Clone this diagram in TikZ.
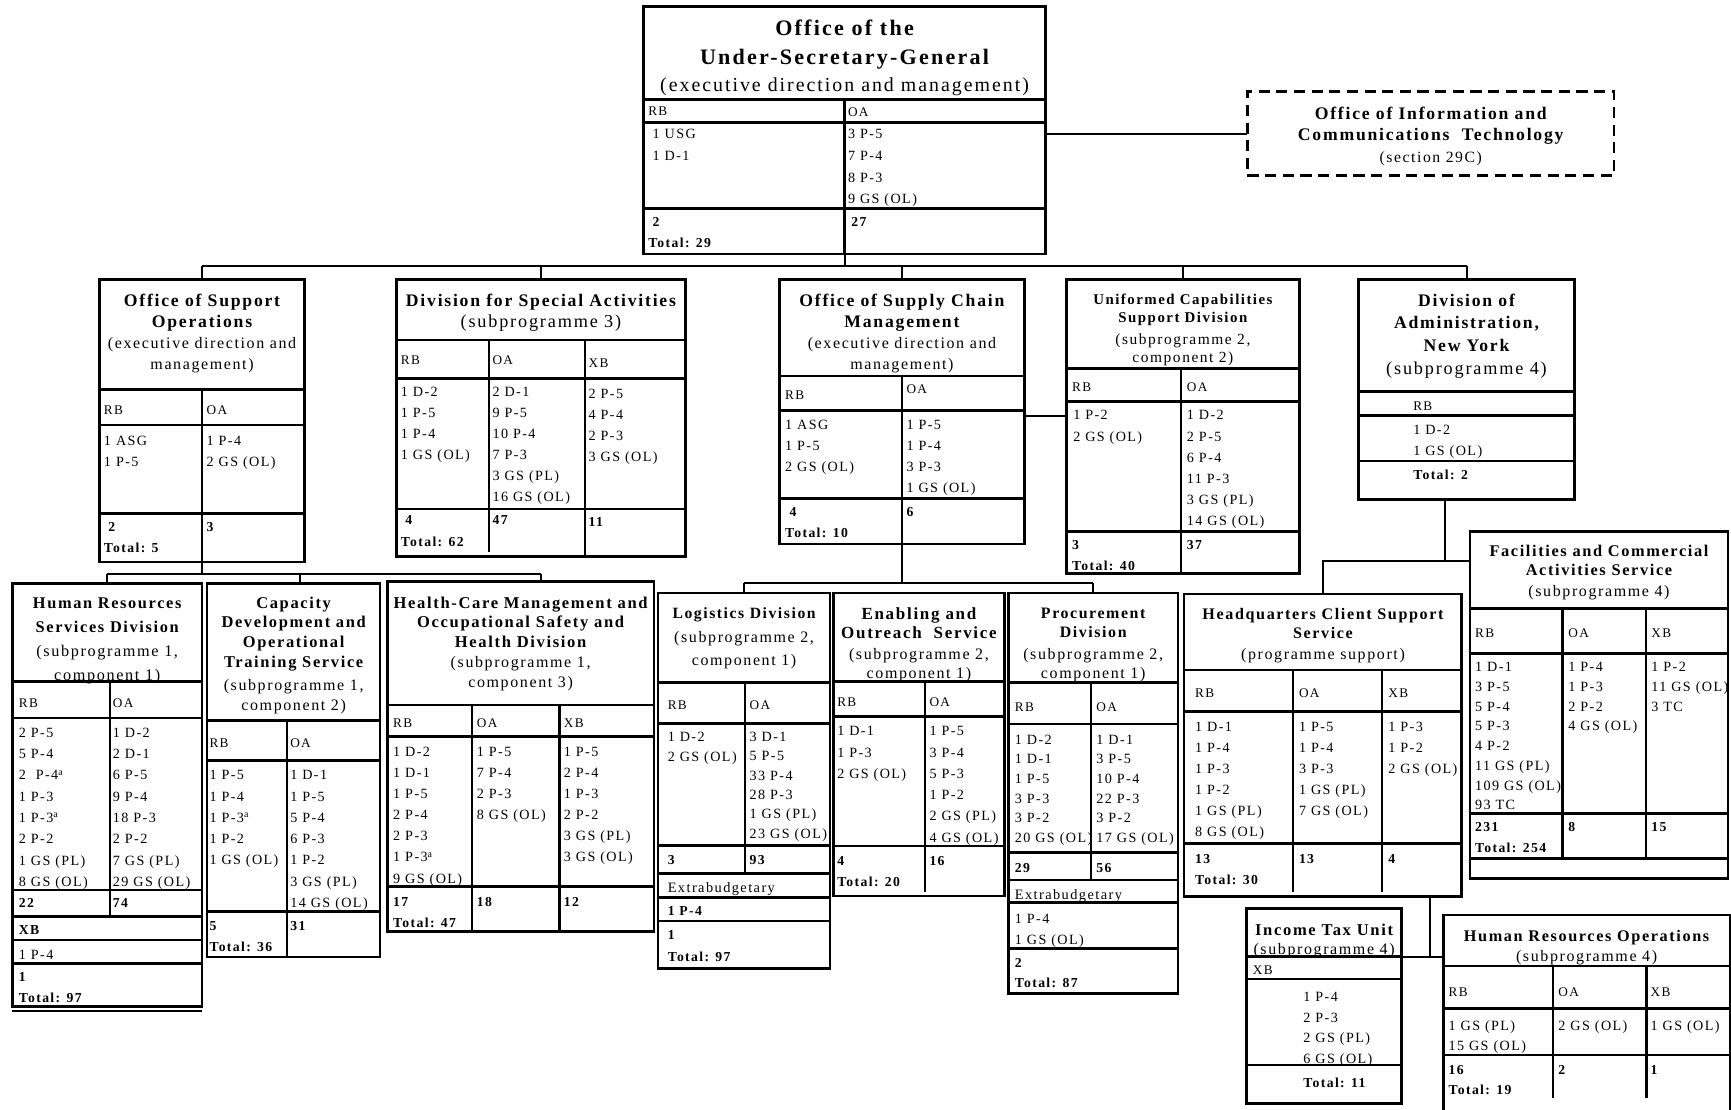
\documentclass[tikz,border=0pt]{standalone}
\usepackage{fontspec}
\setmainfont{Liberation Serif}[LetterSpace=10]
\tikzset{
 box/.style={draw, line width=2.2pt, anchor=north west, inner sep=0pt, outer sep=0pt},
 dbox/.style={box, dash pattern=on 10pt off 6pt},
 rule/.style={line width=2.2pt},
 link/.style={line width=1.8pt},
 cell/.style={anchor=north west, inner sep=0pt, align=left, font=\fontsize{12.8}{19}\selectfont},
 bs/.style={font=\fontsize{12.8}{#1}\selectfont},
 hdr/.style={anchor=north west, inner sep=0pt, font=\fontsize{12}{13}\selectfont},
 tot/.style={anchor=north west, inner sep=0pt, align=left, font=\bfseries\fontsize{12.4}{19}\selectfont},
 tbs/.style={font=\bfseries\fontsize{12.4}{#1}\selectfont},
 ttl/.style={anchor=north, inner sep=0pt, align=center, font=\bfseries\fontsize{15}{18}\selectfont},
 ts/.style 2 args={font=\bfseries\fontsize{#1}{#2}\selectfont},
 sub/.style={anchor=north, inner sep=0pt, align=center, font=\fontsize{14.5}{18}\selectfont},
 ss/.style 2 args={font=\fontsize{#1}{#2}\selectfont},
}
\begin{document}
\begin{tikzpicture}[x=1pt,y=-1pt]
\fill[white] (0,0) rectangle (1568,1005);
\useasboundingbox (0,0) rectangle (1568,1005);

% ---------- Office of the USG
\node[box, minimum width=364pt, minimum height=224pt] (ousg) at (583,6) {};
\draw[rule] (583,90) -- (947,90) (583,111) -- (947,111) (583,189) -- (947,189) (765,90) -- (765,230);
\node[ttl, ts={20}{26}] (ousg-t) at (765,18) {Office of the\\Under-Secretary-General};
\node[sub, ss={18}{20}] (ousg-s) at (765,70.5) {(executive direction and management)};
\node[hdr] (ousg-h1) at (587,97) {RB};
\node[hdr] (ousg-h2) at (768,97) {OA};
\node[cell, bs=19.8] (ousg-c1) at (591,116.7) {1 USG\\1 D-1};
\node[cell, bs=19.8] (ousg-c2) at (768,116.7) {3 P-5\\7 P-4\\8 P-3\\9 GS (OL)};
\node[tot, tbs=19] (ousg-n1) at (587,196.7) {\hspace*{4pt}2\\Total: 29};
\node[tot] (ousg-n2) at (771,196.7) {27};

% ---------- ICT (dashed)
\node[dbox, minimum width=332pt, minimum height=76pt] (ict) at (1130,83) {};
\node[ttl, ts={16}{19.5}] (ict-t) at (1296,96.6) {Office of Information and\\Communications\ \ Technology};
\node[sub, ss={14.2}{18}] (ict-s) at (1296,136.8) {(section 29C)};
\draw[link] (ict.west -| ousg.east) -- (ict.west);

% ---------- Office of Support Operations
\node[box, minimum width=186pt, minimum height=256pt] (oso) at (90,253) {};
\draw[rule] (90,353) -- (276,353) (90,385) -- (276,385) (90,465) -- (276,465) (183,353) -- (183,509);
\node[ttl, ts={16}{19.5}] (oso-t) at (183,266) {Office of Support\\Operations};
\node[sub, ss={14.5}{19.3}] (oso-s) at (183,305) {(executive direction and\\management)};
\node[hdr] (oso-h1) at (94,367.4) {RB};
\node[hdr] (oso-h2) at (187,367.4) {OA};
\node[cell] (oso-c1) at (94,394.6) {1 ASG\\1 P-5};
\node[cell] (oso-c2) at (187,394.6) {1 P-4\\2 GS (OL)};
\node[tot] (oso-n1) at (94,472.7) {\hspace*{4pt}2\\Total: 5};
\node[tot] (oso-n2) at (187,472.7) {3};

% ---------- Division for Special Activities
\node[box, minimum width=262pt, minimum height=251pt] (dsa) at (359,253) {};
\draw[rule] (359,308) -- (621,308) (359,343) -- (621,343) (359,461) -- (621,461) (443,308) -- (443,500) (530,308) -- (530,504);
\node[ttl, ts={16}{19.5}] (dsa-t) at (490,266) {Division for Special Activities};
\node[sub, ss={16.5}{19}] (dsa-s) at (490,284.8) {(subprogramme 3)};
\node[hdr] (dsa-h1) at (363,322) {RB};
\node[hdr] (dsa-h2) at (446,322) {OA};
\node[hdr] (dsa-h3) at (533,324.5) {XB};
\node[cell] (dsa-c1) at (363,350.5) {1 D-2\\1 P-5\\1 P-4\\1 GS (OL)};
\node[cell] (dsa-c2) at (446,350.5) {2 D-1\\9 P-5\\10 P-4\\7 P-3\\3 GS (PL)\\16 GS (OL)};
\node[cell] (dsa-c3) at (533,352.6) {2 P-5\\4 P-4\\2 P-3\\3 GS (OL)};
\node[tot, tbs=19.6] (dsa-n1) at (363,466.7) {\hspace*{4pt}4\\Total: 62};
\node[tot] (dsa-n2) at (446,466.7) {47};
\node[tot] (dsa-n3) at (533,468.7) {11};

% ---------- Office of Supply Chain Management
\node[box, minimum width=222pt, minimum height=240pt] (oscm) at (706,253) {};
\draw[rule] (706,340.6) -- (928,340.6) (706,372) -- (928,372) (706,451.4) -- (928,451.4) (817,340.6) -- (817,493);
\node[ttl, ts={16}{19.3}] (oscm-t) at (817,266) {Office of Supply Chain\\Management};
\node[sub, ss={14.5}{19.3}] (oscm-s) at (817,305) {(executive direction and\\management)};
\node[hdr] (oscm-h1) at (711,353.8) {RB};
\node[hdr] (oscm-h2) at (821,348.6) {OA};
\node[cell, bs=19.3] (oscm-c1) at (711,380) {1 ASG\\1 P-5\\2 GS (OL)};
\node[cell, bs=19.3] (oscm-c2) at (821,380) {1 P-5\\1 P-4\\3 P-3\\1 GS (OL)};
\node[tot] (oscm-n1) at (711,459.7) {\hspace*{4pt}4\\Total: 10};
\node[tot] (oscm-n2) at (821,459.7) {6};

% ---------- Uniformed Capabilities Support Division
\node[box, minimum width=211pt, minimum height=266.5pt] (ucsd) at (966,253) {};
\draw[rule] (966,333.6) -- (1177,333.6) (966,363.8) -- (1177,363.8) (966,481.6) -- (1177,481.6) (1070,333.6) -- (1070,519.5);
\node[ttl, ts={13.5}{16}] (ucsd-t) at (1071.5,266.2) {Uniformed Capabilities\\Support Division};
\node[sub, ss={14}{16.7}] (ucsd-s) at (1071.5,302) {(subprogramme 2,\\component 2)};
\node[hdr] (ucsd-h1) at (971,346.2) {RB};
\node[hdr] (ucsd-h2) at (1075,346.2) {OA};
\node[cell, bs=19.2] (ucsd-c1) at (972,371.6) {1 P-2\\2 GS (OL)};
\node[cell, bs=19.2] (ucsd-c2) at (1075,371.6) {1 D-2\\2 P-5\\6 P-4\\11 P-3\\3 GS (PL)\\14 GS (OL)};
\node[tot] (ucsd-n1) at (971,489.4) {3\\Total: 40};
\node[tot] (ucsd-n2) at (1075,489.4) {37};
\draw[link] ([yshift=-4pt]oscm.east) -- ([yshift=-4pt]oscm.east -| ucsd.west);

% ---------- Division of Administration, New York
\node[box, minimum width=196pt, minimum height=199.3pt] (doa) at (1230.4,253) {};
\draw[rule] (1230.4,354.8) -- (1426.4,354.8) (1230.4,376.5) -- (1426.4,376.5) (1230.4,417.6) -- (1426.4,417.6);
\node[ttl, ts={16}{20.4}] (doa-t) at (1328.4,266) {Division of\\Administration,\\New York};
\node[sub, ss={16.5}{19}] (doa-s) at (1328.4,327.6) {(subprogramme 4)};
\node[hdr] (doa-h1) at (1280,363.5) {RB};
\node[cell] (doa-c1) at (1280,385.2) {1 D-2\\1 GS (OL)};
\node[tot] (doa-n1) at (1280,425.3) {Total: 2};

% ---------- level 1 connectors
\coordinate (bus1) at (0,241);
\draw[link] (ousg.south) -- (ousg.south |- bus1);
\draw[link] (oso.north |- bus1) -- (doa.north |- bus1);
\foreach \n in {oso,dsa,oscm,ucsd,doa} \draw[link] (\n.north) -- (\n.north |- bus1);

% ---------- Human Resources Services Division
\node[box, minimum width=171.6pt, minimum height=383.4pt] (hrsd) at (11.3,528.4) {};
\draw[rule] (11.3,617.5) -- (182.9,617.5) (11.3,650.6) -- (182.9,650.6) (11.3,806.2) -- (182.9,806.2) (11.3,830.3) -- (182.9,830.3) (11.3,851.4) -- (182.9,851.4) (11.3,872.6) -- (182.9,872.6) (11.3,916) -- (182.9,916) (99.5,617.5) -- (99.5,830.3);
\node[ttl, ts={14.8}{21.7}] (hrsd-t) at (97.1,541.2) {Human Resources\\Services Division};
\node[sub, ss={14.7}{21.7}] (hrsd-s) at (97.1,584.4) {(subprogramme 1,\\component 1)};
\node[hdr] (hrsd-h1) at (16.9,632.5) {RB};
\node[hdr] (hrsd-h2) at (102.1,632.5) {OA};
\node[cell, bs=19.3] (hrsd-c1) at (16.9,659.1) {2 P-5\\5 P-4\\2\ \ P-4\textsuperscript{a}\\1 P-3\\1 P-3\textsuperscript{a}\\2 P-2\\1 GS (PL)\\8 GS (OL)};
\node[cell, bs=19.3] (hrsd-c2) at (102.1,659.1) {1 D-2\\2 D-1\\6 P-5\\9 P-4\\18 P-3\\2 P-2\\7 GS (PL)\\29 GS (OL)};
\node[tot] (hrsd-n1) at (16.9,814) {22};
\node[tot] (hrsd-n2) at (102.1,814) {74};
\node[tot] (hrsd-h3) at (16.9,838.1) {XB};
\node[cell] (hrsd-c3) at (16.9,860.1) {1 P-4};
\node[tot] (hrsd-n3) at (16.9,881) {1\\Total: 97};

% ---------- Capacity Development and Operational Training Service
\node[box, minimum width=156.6pt, minimum height=338.7pt] (cdots) at (187.7,528.4) {};
\draw[rule] (187.7,652.8) -- (344.3,652.8) (187.7,689) -- (344.3,689) (187.7,825.8) -- (344.3,825.8) (260.2,652.8) -- (260.2,867.1);
\node[ttl, ts={14.9}{17.8}] (cdots-t) at (266,540.5) {Capacity\\Development and\\Operational\\Training Service};
\node[sub, ss={14.5}{18.1}] (cdots-s) at (266,615.3) {(subprogramme 1,\\component 2)};
\node[hdr] (cdots-h1) at (189.6,669.3) {RB};
\node[hdr] (cdots-h2) at (262.8,669.3) {OA};
\node[cell, bs=19.25] (cdots-c1) at (189.6,697.7) {1 P-5\\1 P-4\\1 P-3\textsuperscript{a}\\1 P-2\\1 GS (OL)};
\node[cell, bs=19.25] (cdots-c2) at (262.8,697.7) {1 D-1\\1 P-5\\5 P-4\\6 P-3\\1 P-2\\3 GS (PL)\\14 GS (OL)};
\node[tot, tbs=18.7] (cdots-n1) at (189.6,834.5) {5\\Total: 36};
\node[tot] (cdots-n2) at (262.8,834.5) {31};
\coordinate (cdotsdrop) at (272,528.4);

% ---------- Health-Care Management ...
\node[box, minimum width=241.2pt, minimum height=317pt] (hcm) at (351,526.9) {};
\draw[rule] (351,638.6) -- (592.2,638.6) (351,667.3) -- (592.2,667.3) (351,803.1) -- (592.2,803.1) (427.3,638.6) -- (427.3,843.9) (506.9,638.6) -- (506.9,843.9);
\node[ttl, ts={15}{17.8}] (hcm-t) at (471.6,540.2) {Health-Care Management and\\Occupational Safety and\\Health Division};
\node[sub, ss={14.5}{18.7}] (hcm-s) at (471.6,594.1) {(subprogramme 1,\\component 3)};
\node[hdr] (hcm-h1) at (356,651.2) {RB};
\node[hdr] (hcm-h2) at (431.8,651.2) {OA};
\node[hdr] (hcm-h3) at (510.6,651.2) {XB};
\node[cell, bs=19.1] (hcm-c1) at (356,676.6) {1 D-2\\1 D-1\\1 P-5\\2 P-4\\2 P-3\\1 P-3\textsuperscript{a}\\9 GS (OL)};
\node[cell, bs=19.1] (hcm-c2) at (431.8,676.6) {1 P-5\\7 P-4\\2 P-3\\8 GS (OL)};
\node[cell, bs=19.1] (hcm-c3) at (510.6,676.6) {1 P-5\\2 P-4\\1 P-3\\2 P-2\\3 GS (PL)\\3 GS (OL)};
\node[tot, tbs=18.4] (hcm-n1) at (356,813) {17\\Total: 47};
\node[tot] (hcm-n2) at (431.8,813) {18};
\node[tot] (hcm-n3) at (510.6,813) {12};
\coordinate (hcmdrop) at (490,526.9);

% connectors under OSO
\coordinate (bus2) at (0,520);
\draw[link] (oso.south) -- (oso.south |- bus2);
\draw[link] (hrsd.north |- bus2) -- (hcmdrop |- bus2);
\draw[link] (hrsd.north) -- (hrsd.north |- bus2);
\draw[link] (cdotsdrop) -- (cdotsdrop |- bus2);
\draw[link] (hcmdrop) -- (hcmdrop |- bus2);

% ---------- Logistics Division
\node[box, minimum width=155.9pt, minimum height=339.7pt] (logi) at (596,537.4) {};
\draw[rule] (596,618.4) -- (751.9,618.4) (596,655.2) -- (751.9,655.2) (596,766) -- (751.9,766) (596,791.1) -- (751.9,791.1) (596,813.1) -- (751.9,813.1) (596,834.2) -- (751.9,834.2) (674.8,618.4) -- (674.8,791.1);
\node[ttl, ts={14.2}{18}] (logi-t) at (674,550.5) {Logistics Division};
\node[sub, ss={14.5}{21.1}] (logi-s) at (674,571.5) {(subprogramme 2,\\component 1)};
\node[hdr] (logi-h1) at (604.7,634.6) {RB};
\node[hdr] (logi-h2) at (678.9,634.6) {OA};
\node[cell, bs=17.8] (logi-c1) at (604.7,663) {1 D-2\\2 GS (OL)};
\node[cell, bs=17.5] (logi-c2) at (678.9,663) {3 D-1\\5 P-5\\33 P-4\\28 P-3\\1 GS (PL)\\23 GS (OL)};
\node[tot] (logi-n1) at (604.7,774.7) {3};
\node[tot] (logi-n2) at (678.9,774.7) {93};
\node[cell, font=\fontsize{13}{19}\selectfont] (logi-e) at (604.7,799.4) {Extrabudgetary};
\node[tot] (logi-c3) at (604.7,820.9) {1 P-4};
\node[tot, tbs=19.5] (logi-n3) at (604.7,842.7) {1\\Total: 97};

% ---------- Enabling and Outreach Service
\node[box, minimum width=154.8pt, minimum height=274.2pt] (enab) at (755,537.4) {};
\draw[rule] (755,617.5) -- (909.8,617.5) (755,649.2) -- (909.8,649.2) (755,766.3) -- (909.8,766.3) (838,617.5) -- (838,807.7);
\node[ttl, ts={15.4}{17.2}] (enab-t) at (832.4,550.1) {Enabling and\\Outreach\ \ Service};
\node[sub, ss={14.5}{16.6}] (enab-s) at (832.4,587.5) {(subprogramme 2,\\component 1)};
\node[hdr] (enab-h1) at (758.2,631.6) {RB};
\node[hdr] (enab-h2) at (841.8,631.6) {OA};
\node[cell, bs=19.3] (enab-c1) at (758.2,657.8) {1 D-1\\1 P-3\\2 GS (OL)};
\node[cell, bs=19.3] (enab-c2) at (841.8,657.8) {1 P-5\\3 P-4\\5 P-3\\1 P-2\\2 GS (PL)\\4 GS (OL)};
\node[tot, tbs=18.6] (enab-n1) at (758.2,775.7) {4\\Total: 20};
\node[tot] (enab-n2) at (841.8,775.7) {16};

% ---------- Procurement Division
\node[box, minimum width=153.5pt, minimum height=362.4pt] (proc) at (913.5,537.4) {};
\draw[rule] (913.5,618.4) -- (1067,618.4) (913.5,655.8) -- (1067,655.8) (913.5,772.3) -- (1067,772.3) (913.5,797.1) -- (1067,797.1) (913.5,817.6) -- (1067,817.6) (913.5,859) -- (1067,859) (988.4,618.4) -- (988.4,797.1);
\node[ttl, ts={14.4}{17.2}] (proc-t) at (990.25,550.3) {Procurement\\Division};
\node[sub, ss={14.5}{16.6}] (proc-s) at (990.25,587.5) {(subprogramme 2,\\component 1)};
\node[hdr] (proc-h1) at (919.1,636.1) {RB};
\node[hdr] (proc-h2) at (993,636.1) {OA};
\node[cell, bs=17.8] (proc-c1) at (919.1,665.4) {1 D-2\\1 D-1\\1 P-5\\3 P-3\\3 P-2\\20 GS (OL)};
\node[cell, bs=17.8] (proc-c2) at (993,665.4) {1 D-1\\3 P-5\\10 P-4\\22 P-3\\3 P-2\\17 GS (OL)};
\node[tot] (proc-n1) at (919.1,781.7) {29};
\node[tot] (proc-n2) at (993,781.7) {56};
\node[cell, font=\fontsize{13}{19}\selectfont] (proc-e) at (919.1,805.5) {Extrabudgetary};
\node[cell] (proc-c3) at (919.1,827.5) {1 P-4\\1 GS (OL)};
\node[tot, tbs=18.7] (proc-n3) at (919.1,867.7) {2\\Total: 87};

% connectors under OSCM
\coordinate (bus3) at (0,527.8);
\draw[link] (oscm.south) -- (oscm.south |- bus3);
\draw[link] (logi.north |- bus3) -- (proc.north |- bus3);
\draw[link] (logi.north) -- (logi.north |- bus3);
\draw[link] (proc.north) -- (proc.north |- bus3);

% ---------- Facilities and Commercial Activities Service
\node[box, minimum width=234pt, minimum height=314pt] (fcas) at (1331.4,481.6) {};
\draw[rule] (1331.4,551) -- (1565.4,551) (1331.4,591.8) -- (1565.4,591.8) (1331.4,736.7) -- (1565.4,736.7) (1331.4,777.5) -- (1565.4,777.5) (1415.3,551) -- (1415.3,777.5) (1490.8,551) -- (1490.8,777.5);
\node[ttl, ts={14.8}{17.5}] (fcas-t) at (1448.4,493.5) {Facilities and Commercial\\Activities Service};
\node[sub] (fcas-s) at (1448.4,530.1) {(subprogramme 4)};
\node[hdr] (fcas-h1) at (1336,569.7) {RB};
\node[hdr] (fcas-h2) at (1420.5,569.7) {OA};
\node[hdr] (fcas-h3) at (1495.7,569.7) {XB};
\node[cell, bs=17.9] (fcas-c1) at (1336,599.6) {1 D-1\\3 P-5\\5 P-4\\5 P-3\\4 P-2\\11 GS (PL)\\109 GS (OL)\\93 TC};
\node[cell, bs=17.9] (fcas-c2) at (1420.5,599.6) {1 P-4\\1 P-3\\2 P-2\\4 GS (OL)};
\node[cell, bs=17.9] (fcas-c3) at (1495.7,599.6) {1 P-2\\11 GS (OL)\\3 TC};
\node[tot, tbs=19.6] (fcas-n1) at (1336,744.5) {231\\Total: 254};
\node[tot] (fcas-n2) at (1420.5,744.5) {8};
\node[tot] (fcas-n3) at (1495.7,744.5) {15};

% ---------- Headquarters Client Support Service
\node[box, minimum width=251.3pt, minimum height=274pt] (hcss) at (1072.7,538) {};
\draw[rule] (1072.7,606.9) -- (1324,606.9) (1072.7,644.6) -- (1324,644.6) (1072.7,763.9) -- (1324,763.9) (1171,606.9) -- (1171,808) (1251.6,606.9) -- (1251.6,808);
\node[ttl, ts={14.6}{17.2}] (hcss-t) at (1198.4,551.2) {Headquarters Client Support\\Service};
\node[sub] (hcss-s) at (1198.4,587.5) {(programme support)};
\node[hdr] (hcss-h1) at (1082.4,624) {RB};
\node[hdr] (hcss-h2) at (1176.5,624) {OA};
\node[hdr] (hcss-h3) at (1257.5,624) {XB};
\node[cell, bs=19.1] (hcss-c1) at (1082.4,653.9) {1 D-1\\1 P-4\\1 P-3\\1 P-2\\1 GS (PL)\\8 GS (OL)};
\node[cell, bs=19.1] (hcss-c2) at (1176.5,653.9) {1 P-5\\1 P-4\\3 P-3\\1 GS (PL)\\7 GS (OL)};
\node[cell, bs=19.1] (hcss-c3) at (1257.5,653.9) {1 P-3\\1 P-2\\2 GS (OL)};
\node[tot, tbs=18.7] (hcss-n1) at (1082.4,774.1) {13\\Total: 30};
\node[tot] (hcss-n2) at (1176.5,774.1) {13};
\node[tot] (hcss-n3) at (1257.5,774.1) {4};

% connectors under DoA
\coordinate (j1) at (1308.5,508.5);
\draw[link] (j1 |- doa.south) -- (j1);
\draw[link] (hcss.north) -- (hcss.north |- j1) -- (j1 -| fcas.west);

% ---------- Income Tax Unit
\node[box, minimum width=140.4pt, minimum height=176.6pt] (itu) at (1129.2,822.8) {};
\draw[rule] (1129.2,866.5) -- (1269.6,866.5) (1129.2,887) -- (1269.6,887) (1129.2,964.7) -- (1269.6,964.7);
\node[ttl] (itu-t) at (1199.4,836.4) {Income Tax Unit};
\node[sub] (itu-s) at (1199.4,854.7) {(subprogramme 4)};
\node[hdr] (itu-h1) at (1134.7,874.6) {XB};
\node[cell, bs=18.6] (itu-c1) at (1180.5,898.5) {1 P-4\\2 P-3\\2 GS (PL)\\6 GS (OL)};
\node[tot] (itu-n1) at (1180.5,976.4) {Total: 11};

% ---------- Human Resources Operations
\node[box, minimum width=259.6pt, minimum height=185pt] (hro) at (1307.4,828.8) {};
\draw[rule] (1307.4,875) -- (1567,875) (1307.4,913.4) -- (1567,913.4) (1307.4,955.6) -- (1567,955.6) (1407,875) -- (1407,994.6) (1491.6,875) -- (1491.6,994.6);
\node[ttl, ts={14.7}{18}] (hro-t) at (1437.2,842.7) {Human Resources Operations};
\node[sub] (hro-s) at (1437.2,860.8) {(subprogramme 4)};
\node[hdr] (hro-h1) at (1312,894.3) {RB};
\node[hdr] (hro-h2) at (1411.5,894.3) {OA};
\node[hdr] (hro-h3) at (1495,894.3) {XB};
\node[cell, bs=18.2] (hro-c1) at (1312,924.1) {1 GS (PL)\\15 GS (OL)};
\node[cell] (hro-c2) at (1411.5,924.1) {2 GS (OL)};
\node[cell] (hro-c3) at (1495,924.1) {1 GS (OL)};
\node[tot, tbs=18.1] (hro-n1) at (1312,964.9) {16\\Total: 19};
\node[tot] (hro-n2) at (1411.5,964.9) {2};
\node[tot] (hro-n3) at (1495,964.9) {1};

% connectors under HCSS
\coordinate (j2) at (1295.3,866.5);
\draw[link] (j2 |- hcss.south) -- (j2);
\draw[link] (j2 -| itu.east) -- (j2 -| hro.west);
\end{tikzpicture}
\end{document}
